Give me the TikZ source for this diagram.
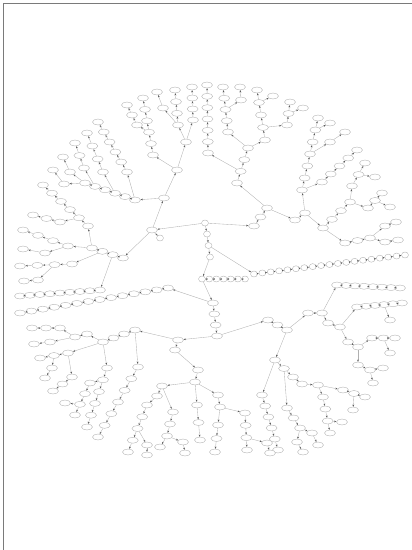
\documentclass[tikz,border=0pt]{standalone}
\usepackage{tikz}
\usetikzlibrary{arrows.meta,calc,shapes.geometric}
\definecolor{trNode}{HTML}{B4B4B4}
\definecolor{trLine}{HTML}{B0B0B0}
\definecolor{trTip}{HTML}{5A5A5A}
\definecolor{trFrame}{HTML}{7A7A7A}
\tikzset{
  nd/.style={ellipse, draw=trNode, fill=white, line width=0.4pt, minimum width=11pt, minimum height=6pt, inner sep=0pt},
  nds/.style={minimum width=7pt},
  ed/.style={-{Stealth[length=2.2pt,width=1.8pt,color=trTip]}, draw=trLine, line width=0.35pt},
  framec/.style={draw=trFrame, line width=1.2pt}
}
% chain of nodes: [style]{prefix}{parent}{first point}{last point}{count}
\newcommand{\nchain}[6][]{%
  \foreach \i in {1,...,#6}{%
    \ifnum#6=1 \def\chainpos{0}\else\pgfmathsetmacro\chainpos{(\i-1)/(#6-1)}\fi
    \pgfmathtruncatemacro\chainprev{\i-1}%
    \node[nd,#1] (#2\i) at ($(#4)!\chainpos!(#5)$) {};
    \ifnum\i=1 \draw[ed] (#3) -- (#2\i);\else \draw[ed] (#2\chainprev) -- (#2\i);\fi
  }}

\begin{document}
\begin{tikzpicture}[x=1pt,y=-1pt]
  \useasboundingbox (0,0) rectangle (412,550);
  \draw[framec] (3.5,550) |- (412,3.5);
  % centre
  \node[nd,nds] (rt) at (205,223) {};
  \nchain[nds]{a}{rt}{207,234}{210,257}{3}
  \nchain[nds]{b}{a3}{202,279}{245,279}{7}
  \nchain[nds]{c}{a2}{254,274}{405,255}{19}
  \nchain{d}{b1}{213,303}{217,336}{4}
  \nchain{ll}{d1}{168,288}{20,313}{14}
  % upper left
  \nchain{ul}{rt}{152,230}{164,198}{2}
  \nchain[nds]{uk}{ul1}{160,238}{160,238}{1}
  \nchain{uv}{ul2}{177,170}{186,142}{2}
  \nchain{w}{ul2}{135,200}{85,183}{6}
  \nchain{s}{ul1}{123,258}{92,248}{4}
  \nchain{lu}{s2}{100,290}{20,296}{9}
  \nchain{fa}{uv2}{193,120}{192,87}{4}
  \nchain{fb}{uv2}{178,125}{175,90}{4}
  \nchain{fc}{fb1}{163,108}{157,92}{2}
  \nchain{fd}{uv1}{153,155}{143,98}{6}
  \nchain{fe}{fd3}{137,125}{127,105}{3}
  \nchain{ff}{w1}{127,172}{98,122}{6}
  \nchain{fg}{w3}{103,172}{87,133}{4}
  \nchain{fh}{w5}{84,168}{75,143}{3}
  \nchain{fi}{w6}{70,172}{63,157}{2}
  \nchain{fj}{w6}{64,184}{53,170}{2}
  \nchain{sa}{s4}{88,226}{43,185}{6}
  \nchain{sb}{sa2}{60,222}{33,215}{3}
  \nchain{sc}{s4}{68,246}{23,230}{4}
  \nchain{sd}{sc1}{45,253}{23,249}{2}
  \nchain{se}{s3}{72,264}{20,266}{4}
  \nchain{sf}{se2}{38,280}{24,281}{2}
  % upper right
  \nchain{r}{rt}{254,226}{267,208}{3}
  \nchain{t}{r3}{237,183}{248,148}{4}
  \nchain{cc}{t2}{208,153}{207,85}{7}
  \nchain{cd}{t4}{228,132}{223,87}{5}
  \nchain{ce}{t4}{265,140}{257,90}{5}
  \nchain{ci}{cd3}{241,100}{240,87}{2}
  \nchain{cj}{ce4}{273,96}{273,96}{1}
  \nchain{cg}{ce2}{287,125}{290,102}{3}
  \nchain{ch}{cg2}{303,108}{303,108}{1}
  \nchain{u}{r3}{295,220}{305,213}{2}
  \nchain{v}{u2}{302,190}{318,118}{7}
  \nchain{vr}{v1}{322,182}{357,150}{5}
  \nchain{vs}{v4}{330,142}{345,132}{2}
  \nchain{vt}{v6}{330,123}{330,123}{1}
  \nchain{x}{u2}{323,228}{350,202}{4}
  \nchain{xa}{x4}{352,186}{365,163}{3}
  \nchain{xb}{xa2}{375,177}{375,177}{1}
  \nchain{xc}{x4}{368,208}{382,193}{3}
  \nchain{xd}{xc2}{390,207}{390,207}{1}
  \nchain{y}{x1}{345,243}{370,238}{3}
  \nchain{ya}{y3}{385,226}{396,222}{2}
  \nchain{yb}{y3}{385,242}{398,240}{2}
  % lower right
  \nchain{p}{d4}{268,320}{287,330}{3}
  \nchain{q}{p3}{308,313}{322,313}{2}
  \nchain{k}{q2}{337,285}{400,288}{8}
  \nchain{m}{q2}{328,323}{340,327}{2}
  \nchain{mn}{m2}{357,307}{402,303}{6}
  \nchain{mo}{mn4}{390,320}{390,320}{1}
  \nchain{g}{m2}{348,342}{358,347}{2}
  \nchain{ga}{g2}{372,338}{395,338}{3}
  \nchain{gb}{ga2}{390,353}{390,353}{1}
  \nchain{gc}{g2}{358,365}{370,370}{2}
  \nchain{gd}{gc2}{383,368}{383,368}{1}
  \nchain{ge}{gc2}{373,383}{373,383}{1}
  \nchain{h}{p3}{275,360}{293,377}{3}
  \nchain{ha}{h3}{302,384}{318,385}{2}
  \nchain{hb}{ha2}{323,397}{330,433}{4}
  \nchain{hc}{hb3}{342,422}{342,422}{1}
  \nchain{hd}{ha2}{343,390}{365,397}{3}
  \nchain{he}{hd2}{353,410}{353,410}{1}
  \nchain{i}{h1}{262,395}{278,450}{6}
  \nchain{ia}{h2}{287,408}{300,428}{3}
  \nchain{ib}{ia3}{297,442}{303,452}{2}
  \nchain{ic}{ia3}{312,433}{318,445}{2}
  % bottom
  \nchain{l}{d4}{178,340}{175,350}{2}
  \nchain{lb}{l2}{198,370}{195,382}{2}
  \nchain{bc}{lb2}{218,395}{220,407}{2}
  \nchain{bca}{bc2}{245,413}{247,450}{4}
  \nchain{bcb}{bca3}{267,443}{270,453}{2}
  \nchain{bcc}{bc2}{218,425}{215,452}{3}
  \nchain{bcd}{lb2}{197,405}{200,440}{3}
  \nchain{n}{lb2}{162,386}{157,396}{2}
  \nchain{na}{n2}{147,405}{128,452}{5}
  \nchain{nb}{na3}{147,445}{147,455}{2}
  \nchain{nc}{n1}{173,412}{167,436}{3}
  \nchain{nd}{nc3}{160,447}{160,447}{1}
  \nchain{ne}{nc3}{183,442}{185,453}{2}
  % lower left
  \nchain{la}{l1}{135,330}{135,330}{1}
  \nchain{lc}{la1}{124,334}{103,342}{3}
  \nchain{ld}{la1}{138,367}{98,437}{7}
  \nchain{le}{lc3}{107,368}{87,427}{6}
  \nchain{lf}{le2}{90,383}{75,415}{4}
  \nchain{lg}{lf3}{65,403}{65,403}{1}
  \nchain{lh}{lc3}{87,334}{75,337}{2}
  \nchain{li}{lh2}{60,328}{32,328}{3}
  \nchain{lj}{lh2}{50,342}{34,344}{2}
  \nchain{lk}{lc3}{68,353}{40,358}{3}
  \nchain{lm}{lk2}{52,368}{45,378}{2}
  \nchain{lo}{lk1}{72,377}{53,391}{3}
\end{tikzpicture}
\end{document}
